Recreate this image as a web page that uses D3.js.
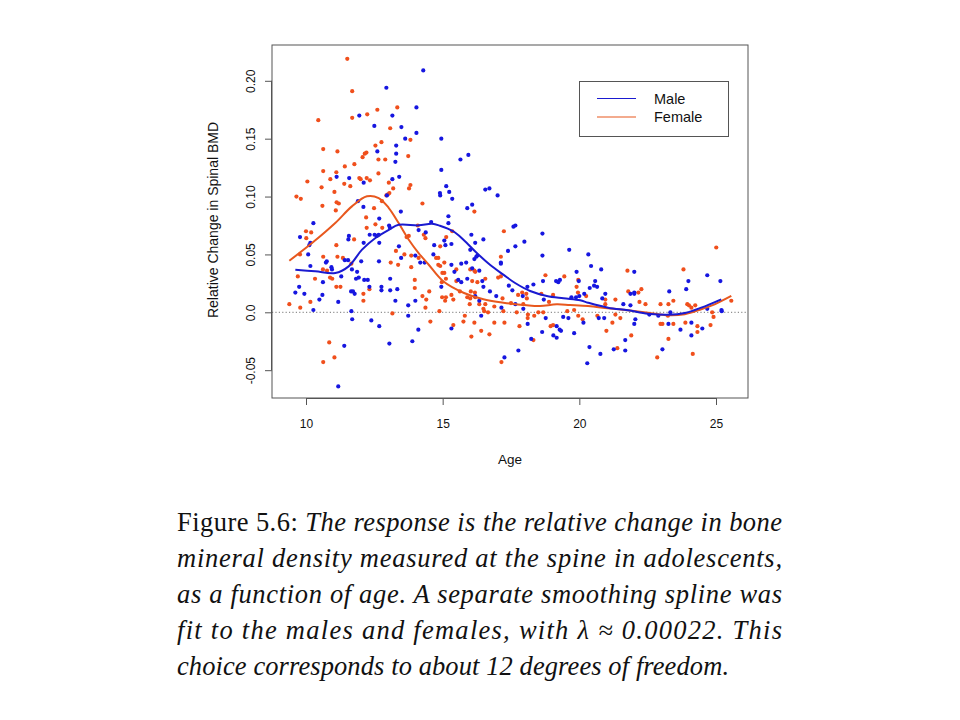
<!DOCTYPE html>
<html><head><meta charset="utf-8">
<script src="https://cdn.jsdelivr.net/npm/d3@7/dist/d3.min.js"></script>
<style>body{margin:0;background:#fff}svg{display:block}</style>
</head><body>
<svg id="c" width="960" height="720"></svg>
<script>
// ---- data (age, relative change in spinal BMD) ----
const femaleAge = [11.51,11.69,13.34,12.24,12.61,11.69,10.45,13.08,13.82,12.76,12.54,10.63,11.15,12.21,12.15,12.07,13.74,12.65,12.90,11.77,10.63,11.11,11.42,10.05,10.89,11.40,11.95,12.00,12.22,12.34,12.65,11.62,13.03,13.82,10.57,13.19,13.77,11.04,13.00,13.05,12.94,9.65,9.81,11.12,11.20,12.78,14.26,10.60,12.49,11.09,12.20,12.54,12.22,12.79,14.09,10.00,10.19,10.01,11.76,14.31,14.37,13.76,13.68,11.11,13.29,9.78,10.63,11.15,11.35,13.10,13.60,13.85,14.12,13.37,11.66,10.62,10.77,13.85,9.70,10.33,10.88,10.96,13.98,11.11,11.26,12.32,13.98,14.51,12.10,12.10,14.26,14.40,10.16,9.39,9.79,14.37,13.16,14.55,10.85,10.63,11.04,
16.16,17.24,15.35,15.13,14.91,17.13,14.76,14.84,15.06,14.84,14.91,15.50,16.01,16.16,16.19,15.06,14.99,18.76,19.45,17.13,17.03,16.56,19.96,16.08,16.27,15.50,15.12,14.97,19.90,19.95,15.63,16.03,16.18,14.98,15.12,15.09,15.32,15.39,15.90,16.01,16.19,17.19,17.76,17.91,18.06,18.08,18.61,18.89,19.04,20.25,15.99,16.34,16.56,16.49,16.52,16.89,17.50,17.95,17.22,17.71,14.88,16.66,15.81,18.12,18.11,18.35,18.50,18.68,19.56,19.81,19.96,20.12,15.76,15.39,16.16,16.89,17.26,17.81,16.41,16.71,16.05,18.95,19.04,18.32,17.15,
25.01,21.76,23.81,20.95,20.95,21.32,21.79,22.16,22.27,22.20,22.42,22.97,23.26,23.44,23.95,24.01,24.10,24.24,25.56,24.86,24.91,21.32,21.50,20.66,21.21,23.24,22.97,23.04,23.44,23.88,24.80,24.32,24.32,20.99,21.90,23.26,21.39,22.85,24.15];
const femaleChange = [0.219,0.191,0.177,0.171,0.175,0.168,0.166,0.159,0.149,0.147,0.144,0.141,0.139,0.138,0.137,0.134,0.135,0.132,0.132,0.128,0.122,0.121,0.126,0.113,0.115,0.111,0.116,0.115,0.116,0.114,0.120,0.109,0.112,0.110,0.108,0.107,0.107,0.104,0.102,0.103,0.101,0.100,0.098,0.095,0.094,0.096,0.094,0.092,0.090,0.088,0.082,0.076,0.073,0.073,0.075,0.070,0.069,0.064,0.063,0.067,0.064,0.066,0.065,0.058,0.053,0.050,0.048,0.048,0.047,0.043,0.050,0.049,0.047,0.041,0.042,0.037,0.036,0.039,0.031,0.029,0.030,0.029,0.028,0.022,0.022,0.020,0.021,0.018,0.016,0.010,0.014,0.011,0.009,0.007,0.004,0.004,-0.001,-0.008,-0.026,-0.043,-0.039,
0.087,0.070,0.070,0.065,0.057,0.048,0.047,0.047,0.043,0.041,0.040,0.037,0.037,0.036,0.035,0.034,0.034,0.032,0.031,0.031,0.030,0.029,0.028,0.027,0.026,0.027,0.029,0.026,0.022,0.017,0.018,0.018,0.017,0.013,0.013,0.010,0.015,0.011,0.013,0.012,0.013,0.012,0.015,0.017,0.016,0.012,0.016,0.009,0.015,0.014,0.007,0.007,0.007,0.003,0.001,0.005,0.008,0.007,0.001,0.000,0.001,0.000,-0.003,-0.002,-0.005,-0.003,0.000,0.000,0.001,0.002,-0.003,-0.006,-0.008,-0.011,-0.009,-0.009,-0.009,-0.012,-0.016,-0.019,-0.021,-0.012,-0.011,-0.024,-0.043,
0.056,0.036,0.037,0.011,0.007,0.011,0.018,0.017,0.020,0.009,0.007,0.007,0.007,0.010,0.007,0.006,0.004,0.006,0.010,0.000,-0.004,-0.002,-0.005,-0.003,-0.009,-0.003,-0.010,-0.010,-0.010,-0.009,-0.011,-0.012,-0.017,-0.016,-0.020,-0.023,-0.031,-0.039,-0.036];

const maleAge = [14.29,12.94,14.04,11.95,13.16,12.50,13.49,14.04,13.63,13.30,12.61,13.30,13.27,14.95,15.65,15.94,11.12,11.58,12.11,13.16,13.41,12.96,11.90,12.10,13.47,12.68,10.27,13.04,13.07,14.12,14.38,11.57,11.55,12.33,12.51,12.66,12.59,9.78,12.11,12.68,10.16,10.12,13.40,10.08,10.76,10.73,11.54,11.42,12.02,12.67,13.48,14.00,14.18,14.34,10.16,10.93,10.95,11.68,11.87,11.29,11.83,11.93,12.13,12.26,13.08,10.62,9.75,11.65,11.72,11.78,12.32,12.76,12.76,13.08,13.34,9.61,9.94,10.60,10.49,11.18,13.27,14.00,13.74,10.27,11.66,13.74,11.69,12.39,12.68,14.11,11.40,13.05,13.89,11.18,
14.95,15.13,15.24,14.90,14.91,15.35,16.56,16.71,17.01,15.90,16.08,15.21,15.21,14.58,17.59,17.66,16.05,18.65,16.49,16.19,15.06,15.10,14.69,15.32,17.99,17.66,16.01,17.39,19.63,18.65,20.33,16.27,16.23,14.66,16.16,17.13,17.13,15.32,15.68,15.86,15.43,16.08,16.34,19.90,15.90,18.67,19.15,19.29,19.23,16.45,15.68,15.57,14.95,16.49,17.42,17.55,18.10,18.32,19.98,16.73,16.19,16.96,17.93,18.70,19.71,19.88,20.00,20.18,16.34,17.66,17.15,17.95,16.41,18.77,19.41,19.60,20.15,18.11,15.32,18.64,19.17,19.28,19.33,19.81,19.05,19.17,18.24,17.77,17.26,20.37,20.29,
20.43,20.80,20.58,22.01,24.68,23.99,25.16,20.38,20.54,20.65,20.95,20.84,21.87,22.01,22.01,23.29,23.91,21.61,21.87,24.68,25.20,25.21,20.71,20.91,22.05,22.01,22.56,22.89,23.33,23.26,24.10,24.50,23.70,24.10,21.68,20.77,21.26,21.68,23.04];
const maleChange = [0.209,0.194,0.177,0.170,0.170,0.161,0.160,0.155,0.150,0.144,0.139,0.137,0.130,0.150,0.132,0.136,0.117,0.116,0.112,0.115,0.117,0.101,0.096,0.091,0.087,0.081,0.077,0.075,0.073,0.071,0.069,0.066,0.063,0.067,0.067,0.067,0.066,0.065,0.060,0.060,0.060,0.058,0.057,0.050,0.044,0.043,0.045,0.045,0.044,0.044,0.047,0.049,0.043,0.043,0.040,0.039,0.037,0.037,0.035,0.031,0.029,0.030,0.028,0.028,0.029,0.026,0.022,0.018,0.018,0.016,0.022,0.022,0.019,0.019,0.020,0.017,0.016,0.015,0.011,0.009,0.010,0.010,0.006,0.002,0.001,-0.003,-0.006,-0.007,-0.012,-0.015,-0.029,-0.027,-0.025,-0.064,
0.123,0.109,0.104,0.103,0.101,0.098,0.106,0.107,0.101,0.090,0.093,0.083,0.077,0.078,0.074,0.075,0.067,0.068,0.063,0.060,0.062,0.058,0.058,0.059,0.061,0.057,0.054,0.053,0.054,0.049,0.050,0.049,0.048,0.050,0.046,0.043,0.042,0.041,0.042,0.043,0.035,0.038,0.036,0.035,0.029,0.027,0.027,0.028,0.026,0.027,0.026,0.028,0.022,0.022,0.023,0.019,0.022,0.024,0.027,0.018,0.014,0.014,0.014,0.011,0.013,0.013,0.014,0.016,0.010,0.007,0.004,0.003,-0.003,-0.005,-0.004,-0.005,-0.009,-0.010,-0.014,-0.017,-0.012,-0.015,-0.016,-0.018,-0.020,-0.022,-0.023,-0.033,-0.039,-0.030,-0.044,
0.040,0.037,0.027,0.035,0.032,0.027,0.027,0.021,0.023,0.022,0.016,0.012,0.016,0.017,0.016,0.018,0.020,0.007,0.006,0.003,0.002,0.001,-0.005,-0.005,-0.006,-0.010,-0.002,-0.003,0.000,-0.010,-0.009,-0.014,-0.015,-0.020,-0.024,-0.036,-0.032,-0.033,-0.032];

// smoothing spline fits
const femaleFitAge = [9.39,10.22,11.07,11.68,12.23,12.66,13.03,13.39,13.76,14.12,14.49,15.02,15.76,16.49,17.22,18.08,18.56,19.17,19.66,20.32,21.05,21.78,22.51,23.25,23.86,24.46,24.95,25.56];
const femaleFit    = [0.0446,0.0598,0.0771,0.0915,0.1002,0.0987,0.0901,0.0771,0.0627,0.0512,0.0411,0.0268,0.0169,0.0112,0.0083,0.0060,0.0054,0.0069,0.0063,0.0054,0.0035,0.0017,-0.0003,-0.0026,-0.0017,0.0026,0.0069,0.0141];
const maleFitAge = [9.61,10.34,11.07,11.56,12.05,12.54,13.03,13.39,14.12,14.61,14.90,15.39,15.76,16.25,16.73,17.22,17.65,18.20,18.81,19.42,20.03,20.32,21.05,21.78,22.51,23.25,23.86,24.46,25.19];
const maleFit    = [0.0368,0.0354,0.0339,0.0397,0.0541,0.0642,0.0713,0.0756,0.0751,0.0765,0.0748,0.0699,0.0627,0.0512,0.0411,0.0325,0.0253,0.0184,0.0141,0.0121,0.0104,0.0083,0.0040,0.0017,-0.0012,-0.0021,-0.0006,0.0040,0.0112];

const xTicks = [10,15,20,25];
const yTicks = [-0.05,0,0.05,0.10,0.15,0.20];
const yTickLabels = ["-0.05","0.0","0.05","0.10","0.15","0.20"];
const seriesNames = ["Male","Female"];
const captionLines = [
  ["Figure 5.6: ", "The response is the relative change in bone"],
  ["", "mineral density measured at the spine in adolescents,"],
  ["", "as a function of age.  A separate smoothing spline was"],
  ["", "fit to the males and females, with \u03bb \u2248 0.00022.  This"],
  ["", "choice corresponds to about 12 degrees of freedom."]
];

// ---- styles / layout ----
const MALE = "#1616e0", FEMALE = "#f04f1c";
const MALE_LINE = "#1a1ad0", FEMALE_LINE = "#e8581e";
const box = {l:272, r:748, t:45, b:398};
const svg = d3.select("#c");
const x = d3.scaleLinear().domain([10,25]).range([306,716]);
const y = d3.scaleLinear().domain([0,0.20]).range([312.3,80.8]);
const sans = "'Liberation Sans', Arial, Helvetica, sans-serif";

// zero reference line
svg.append("line").attr("x1",box.l).attr("x2",box.r).attr("y1",y(0)).attr("y2",y(0))
  .attr("stroke","#666").attr("stroke-width",0.9).attr("stroke-dasharray","1.2,2.2");

// points
const pts = svg.append("g");
femaleAge.forEach((a,i)=>pts.append("circle").attr("cx",x(a)).attr("cy",y(femaleChange[i])).attr("r",2.1).attr("fill",FEMALE));
maleAge.forEach((a,i)=>pts.append("circle").attr("cx",x(a)).attr("cy",y(maleChange[i])).attr("r",2.1).attr("fill",MALE));

// fitted curves
const line = d3.line().x(d=>x(d[0])).y(d=>y(d[1])).curve(d3.curveCatmullRom.alpha(0.5));
svg.append("path").attr("d",line(femaleFitAge.map((a,i)=>[a,femaleFit[i]])))
  .attr("fill","none").attr("stroke",FEMALE_LINE).attr("stroke-width",2);
svg.append("path").attr("d",line(maleFitAge.map((a,i)=>[a,maleFit[i]])))
  .attr("fill","none").attr("stroke",MALE_LINE).attr("stroke-width",2);

// box
svg.append("rect").attr("x",box.l).attr("y",box.t).attr("width",box.r-box.l).attr("height",box.b-box.t)
  .attr("fill","none").attr("stroke","#555").attr("stroke-width",1);

// x axis
const xa = svg.append("g").attr("transform",`translate(0,${box.b})`)
  .call(d3.axisBottom(x).tickValues(xTicks).tickSize(7).tickPadding(14).tickFormat(d3.format("d")));
xa.select(".domain").attr("d",`M${x(10)},0.5H${x(25)}`).attr("stroke","#555");
xa.selectAll(".tick line").attr("stroke","#555");
xa.selectAll("text").attr("font-family",sans).attr("font-size",12).attr("fill","#111");

// y axis
const ya = svg.append("g").attr("transform",`translate(${box.l},0)`)
  .call(d3.axisLeft(y).tickValues(yTicks).tickSize(7).tickFormat((d,i)=>yTickLabels[i]));
ya.select(".domain").attr("d",`M-0.5,${y(0.20)}V${y(-0.05)}`).attr("stroke","#555");
ya.selectAll(".tick line").attr("stroke","#555");
ya.selectAll("text").attr("font-family",sans).attr("font-size",12).attr("fill","#111")
  .attr("text-anchor","middle").attr("dy",null).attr("x",null)
  .attr("transform","translate(-21,0) rotate(-90)").attr("y",4);

// axis titles
svg.append("text").attr("x",510).attr("y",464).attr("text-anchor","middle")
  .attr("font-family",sans).attr("font-size",13.5).attr("fill","#111").text("Age");
svg.append("text").attr("transform",`translate(218,220) rotate(-90)`)
  .attr("text-anchor","middle").attr("font-family",sans).attr("font-size",14).attr("fill","#111")
  .text("Relative Change in Spinal BMD");

// legend
const lg = svg.append("g");
lg.append("rect").attr("x",579.5).attr("y",81.5).attr("width",149).attr("height",55)
  .attr("fill","#fff").attr("stroke","#555");
[MALE_LINE, FEMALE_LINE].forEach((c,i)=>{
  const yy = 98.5 + i*18.5;
  lg.append("line").attr("x1",597).attr("x2",636).attr("y1",yy).attr("y2",yy).attr("stroke",c).attr("stroke-width",1.2);
  lg.append("text").attr("x",654).attr("y",yy+5).attr("font-family",sans).attr("font-size",14.5)
    .attr("fill","#111").text(seriesNames[i]);
});

// caption
const serif = "'Liberation Serif', 'Times New Roman', serif";
captionLines.forEach((ln,i)=>{
  const t = svg.append("text").attr("x",177).attr("y",531 + i*36)
    .attr("font-family",serif).attr("font-size",26.5).attr("fill","#111");
  if (ln[0]) t.append("tspan").attr("font-style","normal").text(ln[0]);
  t.append("tspan").attr("font-style","italic").text(ln[1]);
  t.attr("textLength", i<4 ? 605 : 552).attr("lengthAdjust","spacing");
});
</script>
</body></html>
